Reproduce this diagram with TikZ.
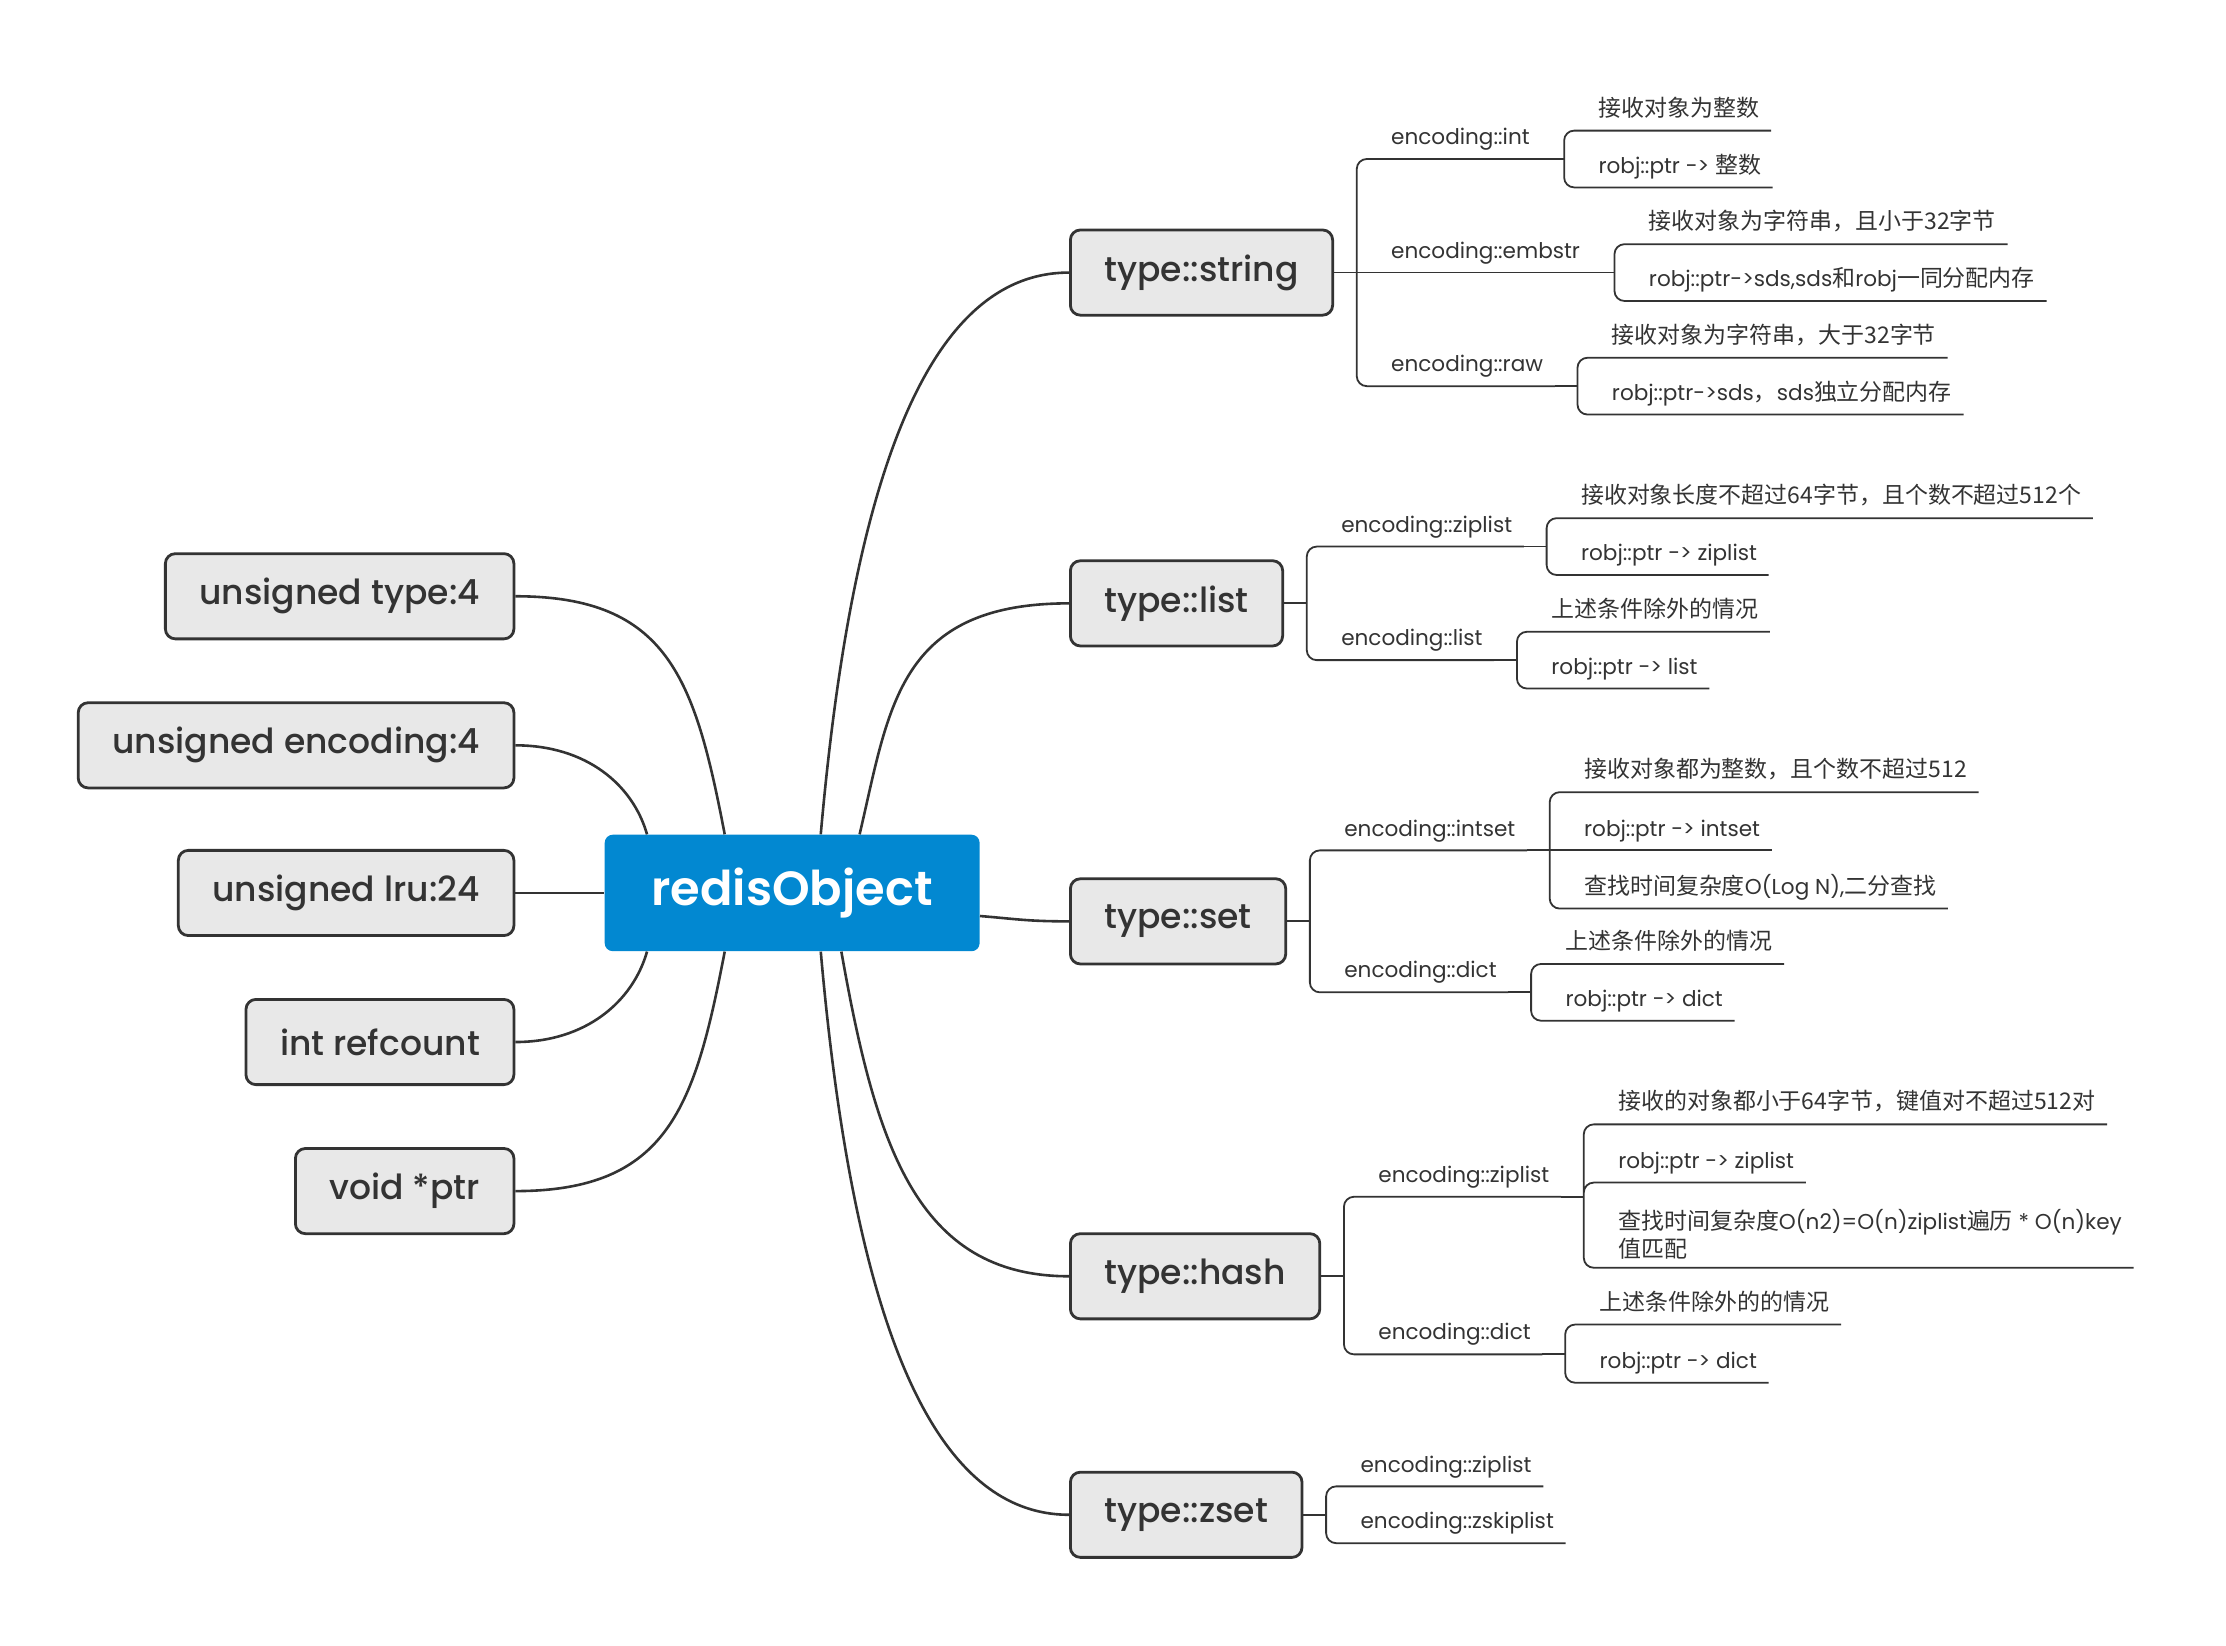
\documentclass[tikz,border=0pt]{standalone}
\usepackage{fontspec}
\setmainfont{Poppins}
\newfontfamily\boxfont{Poppins Medium}
\newfontfamily\rofont{Poppins SemiBold}
\newfontfamily\cjk{Noto Sans CJK SC}[Scale=1.065]
\usetikzlibrary{calc}
\definecolor{ink}{HTML}{333333}
\definecolor{boxgray}{HTML}{E8E8E8}
\definecolor{roblue}{HTML}{0288D1}
\newcommand{\zh}[1]{{\cjk #1}}

\begin{document}
\begin{tikzpicture}[x=0.025cm,y=-0.025cm,
  every node/.style={text=ink},
  root/.style={fill=roblue,rounded corners=4pt,minimum width=6.6cm,minimum height=2.05cm,text=white,font=\rofont\fontsize{24}{28}\selectfont},
  field/.style={draw=ink,line width=1.4pt,fill=boxgray,rounded corners=5pt,minimum height=1.5cm,inner xsep=0.6cm,font=\boxfont\fontsize{17.3}{21}\selectfont},
  lbl/.style={anchor=south west,inner xsep=0.2cm,inner ysep=4pt,font=\fontsize{10.8}{14.2}\selectfont},
  leaf/.style={lbl,text height=9pt,text depth=3pt},
  link/.style={draw=ink,line width=1.3pt},
  branch/.style={draw=ink,line width=0.9pt},
  fork/.style={branch,rounded corners=5pt}
]
  \useasboundingbox (0,0) rectangle (1568,1159);

  \node[root] (ro) at (558,629) {redisObject};

  \node[field,anchor=east] (ft) at (363,420) {unsigned type:4};
  \node[field,anchor=east] (fe) at (363,525) {unsigned encoding:4};
  \node[field,anchor=east] (fl) at (363,629) {unsigned lru:24};
  \node[field,anchor=east] (fr) at (363,734) {int refcount};
  \node[field,anchor=east] (fp) at (363,839) {void *ptr};

  \node[field,anchor=west] (tstr) at (753,192) {type::string};
  \node[field,anchor=west] (tlist) at (753,425) {type::list};
  \node[field,anchor=west] (tset) at (753,649) {type::set};
  \node[field,anchor=west] (thash) at (753,899) {type::hash};
  \node[field,anchor=west] (tzset) at (753,1067) {type::zset};

  \draw[link] (ft.east) .. controls +(108,0) and +(-21,-109) .. (ro.139);
  \draw[link] (fe.east) .. controls +(50,0) and +(-10,-35) .. (ro.158);
  \draw[link] (fl.east) -- (ro.west);
  \draw[link] (fr.east) .. controls +(50,0) and +(-10,35) .. (ro.202);
  \draw[link] (fp.east) .. controls +(108,0) and +(-21,109) .. (ro.221);

  \draw[link] (ro.64) .. controls +(22,-250) and +(-100,0) .. (tstr.west);
  \draw[link] (ro.41) .. controls +(21,-89) and +(-121,0) .. (tlist.west);
  \draw[link] (ro.353) .. controls +(25,2) and +(-30,0) .. (tset.west);
  \draw[link] (ro.310) .. controls +(24,135) and +(-108,0) .. (thash.west);
  \draw[link] (ro.296) .. controls +(22,250) and +(-100,0) .. (tzset.west);

  % type::string
  \node[leaf] (sint) at ($(tstr.east)+(32,-80)$) {encoding::int};
  \node[leaf] (semb) at ($(tstr.east)+(32,0)$) {encoding::embstr};
  \node[leaf] (sraw) at ($(tstr.east)+(32,80)$) {encoding::raw};
  \node[leaf] (sint1) at ($(sint.south east)+(32,-20)$) {\zh{接收对象为整数}};
  \node[leaf] (sint2) at ($(sint.south east)+(32,20)$) {robj::ptr -> \zh{整数}};
  \node[leaf] (semb1) at ($(semb.south east)+(32,-20)$) {\zh{接收对象为字符串，且小于32字节}};
  \node[leaf] (semb2) at ($(semb.south east)+(32,20)$) {robj::ptr->sds,sds\zh{和}robj\zh{一同分配内存}};
  \node[leaf] (sraw1) at ($(sraw.south east)+(32,-20)$) {\zh{接收对象为字符串，大于32字节}};
  \node[leaf] (sraw2) at ($(sraw.south east)+(32,20)$) {robj::ptr->sds\zh{，}sds\zh{独立分配内存}};

  \draw[branch] (tstr.east) -- ++(16,0) coordinate (tstrj);
  \draw[fork] (tstrj) |- (sint.south east) (tstrj) |- (sraw.south east);
  \draw[branch] (tstrj) -- (semb.south east);
  \draw[branch] (sint.south east) -- ++(16,0) coordinate (sintj);
  \draw[fork] (sintj) |- (sint1.south east) (sintj) |- (sint2.south east);
  \draw[branch] (semb.south east) -- ++(16,0) coordinate (sembj);
  \draw[fork] (sembj) |- (semb1.south east) (sembj) |- (semb2.south east);
  \draw[branch] (sraw.south east) -- ++(16,0) coordinate (srawj);
  \draw[fork] (srawj) |- (sraw1.south east) (srawj) |- (sraw2.south east);

  % type::list
  \node[leaf] (lzip) at ($(tlist.east)+(32,-40)$) {encoding::ziplist};
  \node[leaf] (llst) at ($(tlist.east)+(32,40)$) {encoding::list};
  \node[leaf] (lzip1) at ($(lzip.south east)+(32,-20)$) {\zh{接收对象长度不超过64字节，且个数不超过512个}};
  \node[leaf] (lzip2) at ($(lzip.south east)+(32,20)$) {robj::ptr -> ziplist};
  \node[leaf] (llst1) at ($(llst.south east)+(32,-20)$) {\zh{上述条件除外的情况}};
  \node[leaf] (llst2) at ($(llst.south east)+(32,20)$) {robj::ptr -> list};

  \draw[branch] (tlist.east) -- ++(16,0) coordinate (tlistj);
  \draw[fork] (tlistj) |- (lzip.south east) (tlistj) |- (llst.south east);
  \draw[branch] (lzip.south east) -- ++(16,0) coordinate (lzipj);
  \draw[fork] (lzipj) |- (lzip1.south east) (lzipj) |- (lzip2.south east);
  \draw[branch] (llst.south east) -- ++(16,0) coordinate (llstj);
  \draw[fork] (llstj) |- (llst1.south east) (llstj) |- (llst2.south east);

  % type::set
  \node[leaf] (eint) at ($(tset.east)+(32,-50)$) {encoding::intset};
  \node[leaf] (edict) at ($(tset.east)+(32,50)$) {encoding::dict};
  \node[leaf] (eint1) at ($(eint.south east)+(32,-41)$) {\zh{接收对象都为整数，且个数不超过512}};
  \node[leaf] (eint2) at ($(eint.south east)+(32,0)$) {robj::ptr -> intset};
  \node[leaf] (eint3) at ($(eint.south east)+(32,41)$) {\zh{查找时间复杂度}O(Log N),\zh{二分查找}};
  \node[leaf] (edict1) at ($(edict.south east)+(32,-20)$) {\zh{上述条件除外的情况}};
  \node[leaf] (edict2) at ($(edict.south east)+(32,20)$) {robj::ptr -> dict};

  \draw[branch] (tset.east) -- ++(16,0) coordinate (tsetj);
  \draw[fork] (tsetj) |- (eint.south east) (tsetj) |- (edict.south east);
  \draw[branch] (eint.south east) -- ++(16,0) coordinate (eintj);
  \draw[fork] (eintj) |- (eint1.south east) (eintj) |- (eint3.south east);
  \draw[branch] (eintj) -- (eint2.south east);
  \draw[branch] (edict.south east) -- ++(16,0) coordinate (edictj);
  \draw[fork] (edictj) |- (edict1.south east) (edictj) |- (edict2.south east);

  % type::hash
  \node[leaf] (hzip) at ($(thash.east)+(32,-56)$) {encoding::ziplist};
  \node[leaf] (hdict) at ($(thash.east)+(32,55)$) {encoding::dict};
  \node[leaf] (hzip1) at ($(hzip.south east)+(32,-51)$) {\zh{接收的对象都小于64字节，键值对不超过512对}};
  \node[leaf] (hzip2) at ($(hzip.south east)+(32,-10)$) {robj::ptr -> ziplist};
  \node[lbl,align=left] (hzip3) at ($(hzip.south east)+(32,50)$) {\zh{查找时间复杂度}O(n2)=O(n)ziplist\zh{遍历} * O(n)key\\\zh{值匹配}};
  \node[leaf] (hdict1) at ($(hdict.south east)+(32,-21)$) {\zh{上述条件除外的的情况}};
  \node[leaf] (hdict2) at ($(hdict.south east)+(32,20)$) {robj::ptr -> dict};

  \draw[branch] (thash.east) -- ++(16,0) coordinate (thashj);
  \draw[fork] (thashj) |- (hzip.south east) (thashj) |- (hdict.south east);
  \draw[branch] (hzip.south east) -- ++(16,0) coordinate (hzipj);
  \draw[fork] (hzipj) |- (hzip1.south east) (hzipj) |- (hzip2.south east) (hzipj) |- (hzip3.south east);
  \draw[branch] (hdict.south east) -- ++(16,0) coordinate (hdictj);
  \draw[fork] (hdictj) |- (hdict1.south east) (hdictj) |- (hdict2.south east);

  % type::zset
  \node[leaf] (zzip) at ($(tzset.east)+(32,-20)$) {encoding::ziplist};
  \node[leaf] (zskip) at ($(tzset.east)+(32,20)$) {encoding::zskiplist};

  \draw[branch] (tzset.east) -- ++(16,0) coordinate (tzsetj);
  \draw[fork] (tzsetj) |- (zzip.south east) (tzsetj) |- (zskip.south east);
\end{tikzpicture}
\end{document}
